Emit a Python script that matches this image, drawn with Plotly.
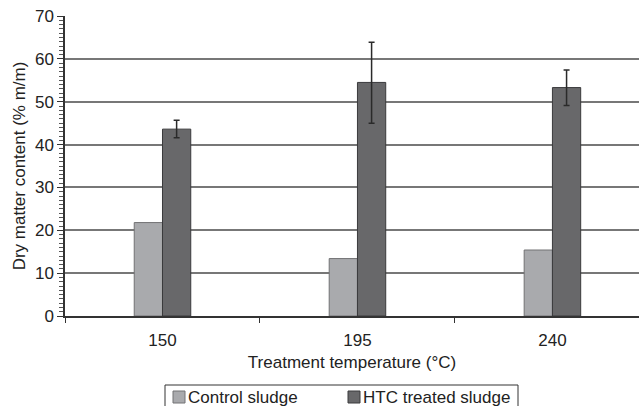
import plotly.graph_objects as go

categories = ["150", "195", "240"]
control_vals = [21.8, 13.4, 15.4]
htc_vals = [43.6, 54.5, 53.3]
htc_err_plus = [2.1, 9.4, 4.1]
htc_err_minus = [2.0, 9.5, 4.2]
series_names = ["Control sludge", "HTC treated sludge"]
y_ticks = [0, 10, 20, 30, 40, 50, 60, 70]

FONT = "Liberation Sans, Arial, sans-serif"
FS = 17
C_CTRL = "#a9aaad"
C_HTC = "#68686a"
L_CTRL = "#727274"
L_HTC = "#3a3a3c"

fig = go.Figure()
fig.add_trace(go.Bar(
    x=categories, y=control_vals, name=series_names[0],
    marker=dict(color=C_CTRL, line=dict(color=L_CTRL, width=1)),
    showlegend=False,
))
fig.add_trace(go.Bar(
    x=categories, y=htc_vals, name=series_names[1],
    marker=dict(color=C_HTC, line=dict(color=L_HTC, width=1)),
    error_y=dict(type="data", symmetric=False, array=htc_err_plus,
                 arrayminus=htc_err_minus, color="#2a2a2a", thickness=1.5, width=3),
    showlegend=False,
))

W, H = 639, 406
ML, MR, MT, MB = 65, 0, 16, 90
pw, ph = W - ML - MR, H - MT - MB


def px(x):
    return (x - ML) / pw


def py(y):
    return (MT + ph - y) / ph


shapes = [
    # legend frame
    dict(type="rect", xref="paper", yref="paper", x0=px(165), x1=px(518),
         y0=py(420), y1=py(385), line=dict(color="#333333", width=1),
         fillcolor="white", layer="above"),
    dict(type="rect", xref="paper", yref="paper", x0=px(173), x1=px(185),
         y0=py(403), y1=py(391), line=dict(color=L_CTRL, width=1),
         fillcolor=C_CTRL, layer="above"),
    dict(type="rect", xref="paper", yref="paper", x0=px(348), x1=px(360),
         y0=py(403), y1=py(391), line=dict(color=L_HTC, width=1),
         fillcolor=C_HTC, layer="above"),
]
annotations = [
    dict(text=series_names[0], xref="paper", yref="paper", x=px(186), y=py(397),
         xanchor="left", yanchor="middle", showarrow=False,
         font=dict(family=FONT, size=FS, color="#222")),
    dict(text=series_names[1], xref="paper", yref="paper", x=px(361), y=py(397),
         xanchor="left", yanchor="middle", showarrow=False,
         font=dict(family=FONT, size=FS, color="#222")),
]

fig.update_layout(
    width=W, height=H,
    margin=dict(l=ML, r=MR, t=MT, b=MB, autoexpand=False),
    paper_bgcolor="white", plot_bgcolor="white",
    barmode="group", bargap=0.71, bargroupgap=0,
    font=dict(family=FONT, size=FS, color="#222"),
    shapes=shapes, annotations=annotations,
    xaxis=dict(
        type="category", range=[-0.5, 2.444],
        showline=True, linecolor="#333", linewidth=1.5,
        tickson="boundaries", ticks="outside", ticklen=5, tickcolor="#333",
        showgrid=False, zeroline=False,
        tickfont=dict(size=FS), ticklabelstandoff=8,
        title=dict(text="Treatment temperature (°C)", font=dict(size=FS), standoff=7),
    ),
    yaxis=dict(
        range=[0, 70], tickvals=y_ticks,
        showline=True, linecolor="#333", linewidth=1.5,
        ticks="outside", ticklen=6, tickcolor="#333",
        minor=dict(dtick=1, ticks="outside", ticklen=4, tickcolor="#555", showgrid=False),
        showgrid=True, gridcolor="#777", gridwidth=1.5,
        zeroline=False, tickfont=dict(size=FS),
        title=dict(text="Dry matter content (% m/m)", font=dict(size=FS), standoff=5),
    ),
)

fig.write_html("out.html")
